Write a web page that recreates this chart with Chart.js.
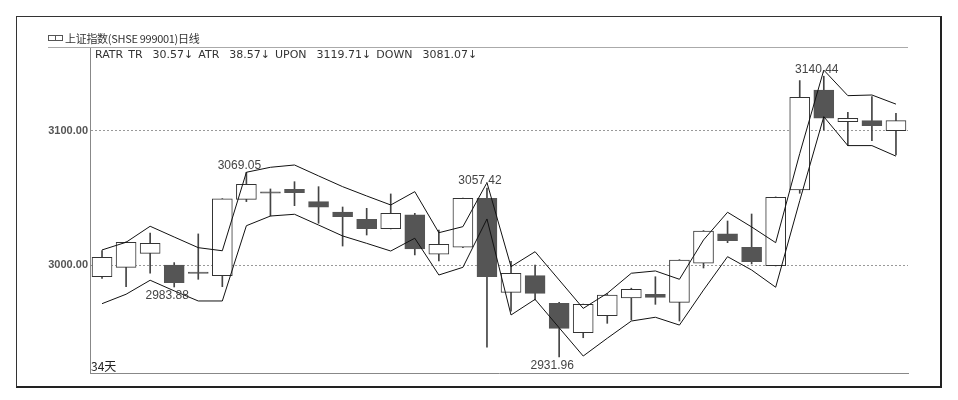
<!DOCTYPE html>
<html>
<head>
<meta charset="utf-8">
<script src="https://cdn.jsdelivr.net/npm/chart.js@4.4.1/dist/chart.umd.min.js"></script>
<style>
  html, body { margin: 0; padding: 0; background: #fff; }
  #wrap { position: relative; width: 958px; height: 400px; overflow: hidden; background: #fff; }
  #frame { position: absolute; left: 16px; top: 16px; width: 923px; height: 369px;
           border-left: 1px solid #333; border-top: 1px solid #333;
           border-right: 2px solid #222; border-bottom: 2px solid #222; box-sizing: content-box; }
  #chart { position: absolute; left: 0; top: 0; }
  .txt { position: absolute; white-space: pre; color: #333; }
  #icon { position: absolute; left: 48px; top: 35px; width: 14px; height: 6px; }
  #icon span { position: absolute; top: 0; width: 6px; height: 4px; border: 1px solid #555; }
  #sep { position: absolute; left: 48px; top: 47px; width: 860px; height: 0; border-top: 1px solid #aaa; }
</style>
</head>
<body>
<div id="wrap">
  <div id="frame"></div>
  <canvas id="chart" width="958" height="400"></canvas>
  <div id="sep"></div>
  <div id="icon"><span style="left:0"></span><span style="left:7px"></span></div>
  <div class="txt" id="title" style="left:65px; top:30px; font: 11px 'Noto Sans CJK SC', sans-serif; letter-spacing:-0.3px;">上证指数(SHSE 999001)日线</div>
  <div class="txt" id="ind" style="left:95px; top:48px; font: 11px 'DejaVu Sans', sans-serif; word-spacing:1.5px;">RATR TR  30.57↓ ATR  38.57↓ UPON  3119.71↓ DOWN  3081.07↓</div>
  <div class="txt" id="days" style="left:91px; top:357px; font: 12px 'Noto Sans CJK SC', sans-serif; color:#222;">34天</div>
</div>
<script>
// Daily bars, 34 sessions
const days = [1,2,3,4,5,6,7,8,9,10,11,12,13,14,15,16,17,18,19,20,21,22,23,24,25,26,27,28,29,30,31,32,33,34];

const openPx  = [2991.5, 2998.5, 3008.9, 3000.2, 2995.0, 2992.3, 3049.0, 3054.5, 3056.5, 3047.3,
                 3039.6, 3034.2, 3027.2, 3037.4, 3008.2, 3013.4, 3049.8, 2979.9, 2992.3, 2971.8,
                 2949.9, 2962.6, 2975.7, 2978.5, 2972.5, 3001.5, 3023.3, 3013.4, 2999.7, 3055.9,
                 3130.2, 3106.7, 3107.4, 3100.0];
const closePx = [3005.9, 3017.1, 3016.3, 2987.1, 2994.0, 3049.3, 3060.2, 3053.5, 3053.9, 3043.1,
                 3036.1, 3027.2, 3038.6, 3012.1, 3015.6, 3049.8, 2991.5, 2994.1, 2979.2, 2953.2,
                 2971.0, 2977.9, 2982.2, 2976.2, 3003.9, 3025.5, 3018.3, 3002.7, 3050.5, 3124.8,
                 3109.2, 3109.2, 3103.7, 3107.4];
const highPx  = [3011.0, 3017.5, 3024.0, 3002.0, 3023.3, 3049.5, 3069.05, 3056.7, 3062.1, 3058.4,
                 3043.3, 3042.3, 3053.0, 3038.6, 3026.2, 3050.0, 3057.42, 3003.0, 3000.2, 2972.5,
                 2971.2, 2979.0, 2983.0, 2991.5, 3004.2, 3025.8, 3032.9, 3038.1, 3050.8, 3137.2,
                 3140.44, 3113.7, 3125.3, 3112.9];
const lowPx   = [2990.3, 2984.1, 2994.1, 2983.88, 2989.6, 2984.1, 3047.3, 3036.6, 3044.3, 3031.2,
                 3014.3, 3022.5, 3027.0, 3007.7, 3003.2, 3013.0, 2939.1, 2966.0, 2974.2, 2931.96,
                 2946.2, 2956.9, 2959.4, 2971.0, 2958.6, 2998.0, 3016.8, 3001.0, 2999.5, 3053.5,
                 3100.5, 3088.9, 3092.6, 3081.9];

// RATR band lines
const upon = [3011.4, 3017.1, 3029.0, 3021.0, 3013.1, 3010.8, 3069.1, 3072.8, 3074.5, 3066.4,
              3058.4, 3051.5, 3044.8, 3054.7, 3024.2, 3028.7, 3061.4, 2999.0, 3010.1, 2989.1,
              2968.0, 2979.2, 2994.1, 2995.8, 2989.6, 3018.8, 3039.4, 3028.5, 3016.8, 3083.0,
              3145.0, 3126.0, 3126.5, 3119.71];
const down = [2971.5, 2978.5, 2988.9, 2981.0, 2973.5, 2973.5, 3029.4, 3036.6, 3037.9, 3029.9,
              3021.8, 3016.3, 3010.6, 3020.1, 2992.8, 2998.5, 3034.4, 2963.1, 2974.7, 2953.6,
              2932.6, 2945.8, 2958.6, 2961.4, 2955.6, 2981.6, 3006.4, 2996.5, 2983.7, 3048.0,
              3110.4, 3088.9, 3088.9, 3081.07];

const yTicks = [3000, 3100];
const peakDays = [7, 17, 31];
const troughDays = [4, 20];

const UP_FILL = '#ffffff', UP_EDGE = '#333333';
const DN_FILL = '#555555', DN_EDGE = '#555555';

const isUp = i => closePx[i] >= openPx[i];

// high / low price tags above and below the marked bars
const extremeTags = {
  id: 'extremeTags',
  afterDatasetsDraw(chart) {
    const { ctx, scales: { x, y } } = chart;
    ctx.save();
    ctx.font = '12px "Liberation Sans", Arial, sans-serif';
    ctx.fillStyle = '#444';
    ctx.textAlign = 'center';
    ctx.textBaseline = 'middle';
    peakDays.forEach(d => {
      const i = d - 1;
      ctx.fillText(highPx[i].toFixed(2), x.getPixelForValue(i) - 7, y.getPixelForValue(highPx[i]) - 7);
    });
    troughDays.forEach(d => {
      const i = d - 1;
      ctx.fillText(lowPx[i].toFixed(2), x.getPixelForValue(i) - 7, y.getPixelForValue(lowPx[i]) + 9);
    });
    ctx.restore();
  }
};

new Chart(document.getElementById('chart'), {
  type: 'bar',
  data: {
    labels: days,
    datasets: [
      { type: 'line', label: 'UPON', data: upon, borderColor: '#111', borderWidth: 1,
        pointRadius: 0, tension: 0, fill: false, order: 0 },
      { type: 'line', label: 'DOWN', data: down, borderColor: '#111', borderWidth: 1,
        pointRadius: 0, tension: 0, fill: false, order: 0 },
      { type: 'bar', label: 'body', data: days.map((d, i) => [openPx[i], closePx[i]]),
        backgroundColor: c => isUp(c.dataIndex) ? UP_FILL : DN_FILL,
        borderColor: c => isUp(c.dataIndex) ? UP_EDGE : DN_EDGE,
        borderWidth: 1, borderSkipped: false, barThickness: 20, grouped: false, order: 1 },
      { type: 'bar', label: 'wick', data: days.map((d, i) => [lowPx[i], highPx[i]]),
        backgroundColor: '#444', borderWidth: 0, barThickness: 1, grouped: false, order: 2 }
    ]
  },
  options: {
    responsive: false,
    animation: false,
    events: [],
    layout: { padding: { top: 48, right: 50, left: 0, bottom: 0 } },
    plugins: { legend: { display: false }, tooltip: { enabled: false } },
    scales: {
      x: {
        offset: true,
        grid: { display: false, drawTicks: false },
        ticks: { display: false },
        border: { display: true, color: '#888', width: 1 },
        afterFit(s) { s.height = 27; }
      },
      y: {
        min: 2920, max: 3161.4,
        afterBuildTicks(s) { s.ticks = yTicks.map(v => ({ value: v })); },
        ticks: {
          callback: v => Number(v).toFixed(2),
          font: { family: '"Liberation Sans", Arial, sans-serif', size: 11, weight: 'bold' },
          color: '#555', padding: 2
        },
        grid: { color: '#999', drawTicks: false, tickLength: 0 },
        border: { display: true, color: '#888', width: 1, dash: [2, 2] },
        afterFit(s) { s.width = 90; }
      }
    }
  },
  plugins: [extremeTags]
});
</script>
</body>
</html>
